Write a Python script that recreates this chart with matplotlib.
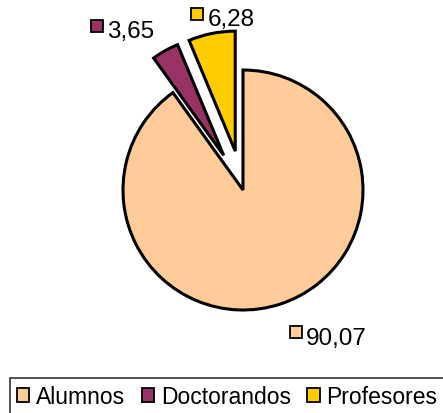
import matplotlib
matplotlib.use("Agg")
import matplotlib.pyplot as plt
import numpy as np

plt.rcParams["font.family"] = ["Liberation Sans", "DejaVu Sans"]

categories = ["Alumnos", "Doctorandos", "Profesores"]
values = [90.07, 3.65, 6.28]
value_labels = ["90,07", "3,65", "6,28"]
colors = ["#FFCC99", "#993366", "#FFCC00"]
explode = [0.0, 0.33, 0.33]

# label anchor points (square marker position), in pie-radius units
label_pos = [(0.44, -1.185), (-1.22, 1.37), (-0.38, 1.47)]

W, H = 443, 414
fig = plt.figure(figsize=(W / 100, H / 100), dpi=100)
ax = fig.add_axes([0, 0, 1, 1])

cx, cy, r = 243, 191, 120

wedges, _ = ax.pie(values, colors=colors, explode=explode, startangle=90,
                   counterclock=False, radius=1.0,
                   wedgeprops=dict(edgecolor="black", linewidth=2.2))

ax.set_aspect("auto")
ax.set_xlim((0 - cx) / r, (W - cx) / r)
ax.set_ylim(-(H - cy) / r, cy / r)
ax.axis("off")

for (x, y), lab, col in zip(label_pos, value_labels, colors):
    ax.plot(x, y, marker="s", markersize=8, markerfacecolor=col,
            markeredgecolor="black", markeredgewidth=1.3, clip_on=False)
    ax.text(x + 0.085, y - 0.045, lab, fontsize=17.5, va="center", ha="left")

handles = [plt.Rectangle((0, 0), 1, 1, facecolor=c, edgecolor="black", linewidth=1.3)
           for c in colors]
leg = fig.legend(handles, categories, loc="upper left",
                 bbox_to_anchor=(10 / W, 1 - 379 / H), ncol=3, fontsize=16.5,
                 frameon=True, fancybox=False, edgecolor="black",
                 handlelength=0.55, handleheight=0.55, handletextpad=0.3,
                 columnspacing=0.7, borderpad=0.3, borderaxespad=0)
leg.get_frame().set_linewidth(1.2)

fig.savefig("out.png", dpi=100)
